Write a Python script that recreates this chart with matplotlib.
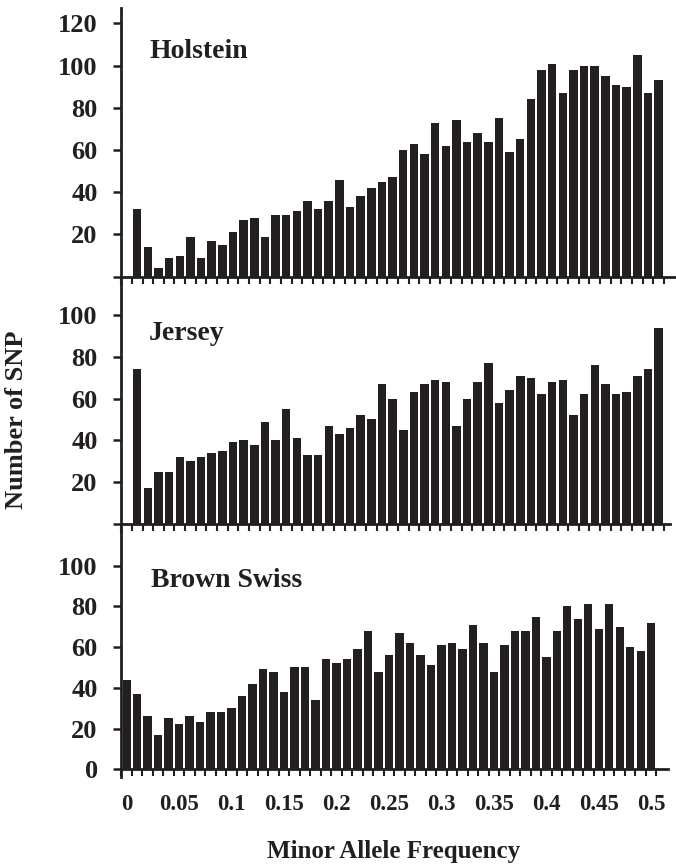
import numpy as np
import matplotlib
matplotlib.use("Agg")
import matplotlib.pyplot as plt
from matplotlib.ticker import FixedLocator, FixedFormatter

plt.rcParams['font.family'] = ['Liberation Serif', 'DejaVu Serif']
plt.rcParams['font.weight'] = 'bold'

# ---- data ----
breeds = ["Holstein", "Jersey", "Brown Swiss"]
maf_top = [round(0.01 * i, 2) for i in range(1, 51)]      # 0.01 .. 0.50
maf_bottom = [round(0.01 * i, 2) for i in range(0, 51)]   # 0.00 .. 0.50

holstein = [32, 14, 4, 9, 10, 19, 9, 17, 15, 21,
            27, 28, 19, 29, 29, 31, 36, 32, 36, 46,
            33, 38, 42, 45, 47, 60, 63, 58, 73, 62,
            74, 64, 68, 64, 75, 59, 65, 84, 98, 101,
            87, 98, 100, 100, 95, 91, 90, 105, 87, 93]
jersey = [74, 17, 25, 25, 32, 30, 32, 34, 35, 39,
          40, 38, 49, 40, 55, 41, 33, 33, 47, 43,
          46, 52, 50, 67, 60, 45, 63, 67, 69, 68,
          47, 60, 68, 77, 58, 64, 71, 70, 62, 68,
          69, 52, 62, 76, 67, 62, 63, 71, 74, 94]
brown_swiss = [44, 37, 26, 17, 25, 22, 26, 23, 28, 28,
               30, 36, 42, 49, 48, 38, 50, 50, 34, 54,
               52, 54, 59, 68, 48, 56, 67, 62, 56, 51,
               61, 62, 59, 71, 62, 48, 61, 68, 68, 75,
               55, 68, 80, 74, 81, 69, 81, 70, 60, 58,
               72]

xtick_vals = [0, 0.05, 0.1, 0.15, 0.2, 0.25, 0.3, 0.35, 0.4, 0.45, 0.5]
xtick_labels = ["0", "0.05", "0.1", "0.15", "0.2", "0.25", "0.3", "0.35", "0.4", "0.45", "0.5"]
bin_edges = [round(-0.005 + 0.01 * i, 3) for i in range(0, 52)]

ytick_top = [0, 20, 40, 60, 80, 100, 120]
ytick_top_labels = ["", "20", "40", "60", "80", "100", "120"]
ytick_mid = [0, 20, 40, 60, 80, 100]
ytick_mid_labels = ["", "20", "40", "60", "80", "100"]
ytick_bot = [0, 20, 40, 60, 80, 100]
ytick_bot_labels = ["0", "20", "40", "60", "80", "100"]

INK = '#231f20'
W, H = 676, 865
fig = plt.figure(figsize=(W / 100, H / 100), dpi=100)


def add_ax(left, right, top, bottom):
    return fig.add_axes([left / W, 1 - bottom / H, (right - left) / W, (bottom - top) / H])


panels = [
    dict(box=(121, 676, 8, 283), xlim=(-0.00526, 0.5164), ylim=(-2.99, 127.3),
         x=maf_top, y=holstein, yt=ytick_top, yl=ytick_top_labels, lab=(149, 58)),
    dict(box=(121, 670, 283, 531), xlim=(-0.00526, 0.5107), ylim=(-3.35, 115.3),
         x=maf_top, y=jersey, yt=ytick_mid, yl=ytick_mid_labels, lab=(149, 340)),
    dict(box=(121, 668, 531, 777), xlim=(-0.00543, 0.516), ylim=(-3.78, 117.0),
         x=maf_bottom, y=brown_swiss, yt=ytick_bot, yl=ytick_bot_labels, lab=(151, 587)),
]

for i, p in enumerate(panels):
    ax = add_ax(*p['box'])
    ax.bar(p['x'], p['y'], width=0.008, color=INK, edgecolor='none', zorder=2)
    ax.set_xlim(*p['xlim'])
    ax.set_ylim(*p['ylim'])
    ax.patch.set_alpha(0)
    for s in ['top', 'right']:
        ax.spines[s].set_visible(False)
    ax.spines['bottom'].set_position(('data', 0))
    for s in ['left', 'bottom']:
        ax.spines[s].set_linewidth(2.0)
        ax.spines[s].set_color(INK)
        ax.spines[s].set_zorder(3)
    ax.yaxis.set_major_locator(FixedLocator(p['yt']))
    ax.yaxis.set_major_formatter(FixedFormatter(p['yl']))
    ax.tick_params(axis='y', which='major', direction='out', length=5.8, width=1.8,
                   color=INK, pad=11, labelsize=19, labelcolor=INK)
    ax.xaxis.set_minor_locator(FixedLocator(bin_edges))
    ax.tick_params(axis='x', which='minor', direction='out', length=5, width=1.5, color=INK)
    if i == 2:
        ax.xaxis.set_major_locator(FixedLocator(xtick_vals))
        ax.xaxis.set_major_formatter(FixedFormatter(xtick_labels))
        ax.tick_params(axis='x', which='major', length=0, pad=18, labelsize=16.5,
                       labelcolor=INK)
    else:
        ax.set_xticks([])
    for lbl in ax.get_xticklabels() + ax.get_yticklabels():
        lbl.set_fontweight('bold')
    fig.text(p['lab'][0] / W, 1 - p['lab'][1] / H, breeds[i], fontsize=20,
             fontweight='bold', color=INK, ha='left', va='baseline')

fig.text(17 / W, 1 - 420 / H, "Number of SNP", rotation=90, fontsize=19,
         fontweight='bold', color=INK, ha='center', va='center')
fig.text(394 / W, 1 - 858 / H, "Minor Allele Frequency", fontsize=18,
         fontweight='bold', color=INK, ha='center', va='baseline')

fig.savefig("out.png", dpi=100)
